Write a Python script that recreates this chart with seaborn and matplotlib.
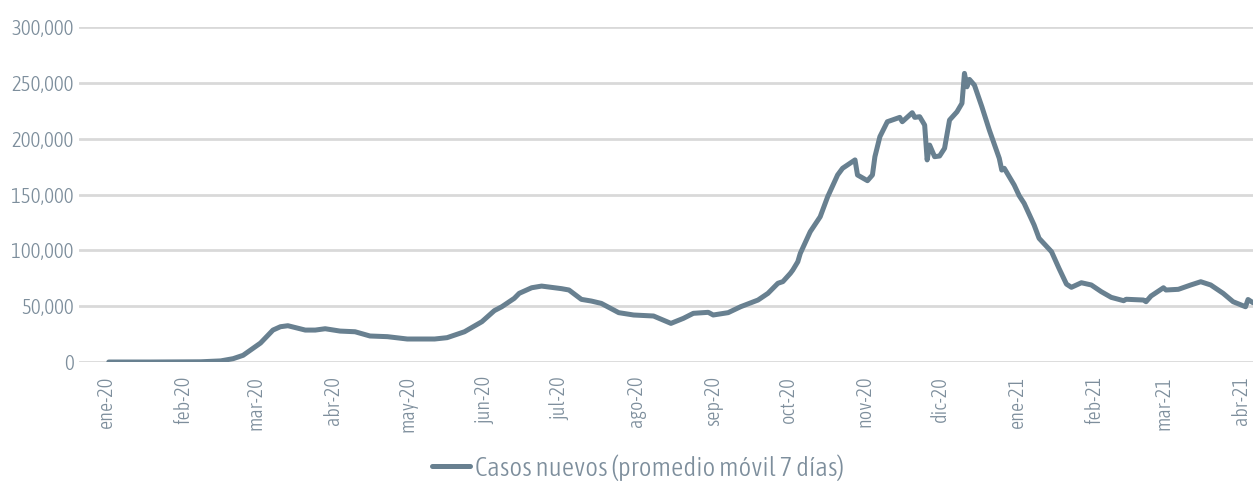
import pandas as pd
import matplotlib.pyplot as plt
import seaborn as sns
from matplotlib import font_manager

# Data (days since 2020-01-01, 7-day avg of new cases)
start_date = '2020-01-01'
days = [1, 18, 38, 46, 51, 55, 62, 67, 70, 73, 80, 84, 88, 94, 100, 106, 113, 121,
        132, 137, 144, 151, 156, 159, 161, 164, 166, 171, 175, 183, 186, 191, 195,
        199, 206, 212, 220, 227, 232, 236, 242, 244, 250, 255, 262, 266, 270, 272,
        275, 276, 278, 279, 283, 287, 290, 294, 296, 301, 302, 306, 308, 309, 311,
        314, 319, 320, 324, 325, 327, 329, 330, 331, 333, 335, 337, 339, 342, 344,
        345, 346, 347, 349, 352, 355, 359, 360, 361, 365, 367, 369, 373, 375, 380,
        383, 386, 388, 392, 396, 400, 404, 409, 410, 417, 418, 420, 425, 426, 431,
        436, 440, 444, 449, 453, 458, 459, 461]
cases = [0, 0, 200, 1000, 3000, 6000, 17000, 28600, 31600, 32500, 28600, 28600,
         29800, 27700, 27100, 23300, 22700, 20600, 20600, 21800, 27100, 36100, 46000,
         49500, 52500, 57000, 61500, 66500, 68000, 65700, 64500, 56100, 54600, 52500,
         44200, 42100, 41200, 34600, 39100, 43600, 44500, 42100, 44200, 49500, 55500,
         61500, 70500, 72000, 79400, 82400, 89800, 97300, 116700, 130100, 148000,
         167500, 173500, 181000, 167500, 162400, 167500, 183900, 201800, 215200,
         219100, 215200, 223300, 219100, 219700, 212200, 181000, 194300, 183900,
         184500, 191400, 216700, 224100, 231700, 258500, 246500, 253100, 248000,
         228600, 207700, 182400, 171900, 173500, 158500, 149000, 142100, 122700,
         110800, 98800, 83900, 69800, 66900, 71000, 69000, 63000, 57900, 54900,
         56200, 55500, 54000, 59100, 66500, 64500, 65100, 69000, 71900, 69000,
         61500, 54000, 49500, 56000, 53100]
series_label = 'Casos nuevos (promedio móvil 7 días)'
month_ticks = pd.date_range('2020-01-01', '2021-04-01', freq='MS')
month_labels = ['ene-20', 'feb-20', 'mar-20', 'abr-20', 'may-20', 'jun-20', 'jul-20',
                'ago-20', 'sep-20', 'oct-20', 'nov-20', 'dic-20', 'ene-21', 'feb-21',
                'mar-21', 'abr-21']
y_ticks = [0, 50000, 100000, 150000, 200000, 250000, 300000]

df = pd.DataFrame({
    'Fecha': pd.Timestamp(start_date) + pd.to_timedelta(days, unit='D'),
    'Casos': cases,
})


def pick_narrow_font():
    """Find a condensed / narrow face among the installed fonts."""
    fonts = font_manager.fontManager.ttflist
    narrow = [f for f in fonts
              if 'Narrow' in f.name or 'Condensed' in f.name
              or f.stretch in ('condensed', 'semi-condensed', 'extra-condensed')]
    normal = [f for f in narrow if f.style == 'normal']
    for pref in (300, 400, 'light', 'normal'):
        for f in normal:
            if f.weight == pref:
                return f
    return normal[0] if normal else None


sns.set_style('white')
face = pick_narrow_font()
if face is not None:
    plt.rcParams['font.family'] = [face.name, 'DejaVu Sans']
    plt.rcParams['font.stretch'] = face.stretch
    plt.rcParams['font.weight'] = face.weight
    scale = 1.0
else:
    plt.rcParams['font.family'] = ['DejaVu Sans']
    scale = 0.8

text_color = '#7d8e9c'
line_color = '#688090'

fig = plt.figure(figsize=(12.53, 4.83), dpi=100)
ax = fig.add_axes([0.063, 0.2505, 0.937, 0.6935])

sns.lineplot(data=df, x='Fecha', y='Casos', ax=ax, color=line_color,
             linewidth=3.6, label=series_label, solid_capstyle='round')

ax.set_ylim(0, 300000)
ax.set_xlim(pd.Timestamp('2019-12-21'), pd.Timestamp('2021-04-06'))
ax.set_yticks(y_ticks)
ax.yaxis.set_major_formatter(plt.FuncFormatter(lambda v, p: f'{v:,.0f}'))
ax.set_xticks(month_ticks)
ax.set_xticklabels(month_labels, rotation=90)
ax.tick_params(axis='y', length=0, pad=4, labelsize=15 * scale, labelcolor=text_color)
ax.tick_params(axis='x', length=0, pad=10, labelsize=14.5 * scale, labelcolor=text_color)
ax.set_xlabel('')
ax.set_ylabel('')

ax.grid(axis='y', color='#d9d9d9', linewidth=2)
ax.grid(axis='x', visible=False)
ax.set_axisbelow(True)
sns.despine(ax=ax, left=True, bottom=True, top=True, right=True)

leg = ax.legend(loc='center', bbox_to_anchor=(0.476, -0.315), frameon=False,
                fontsize=19.5 * scale, handlelength=1.4, handletextpad=0.2)
for t in leg.get_texts():
    t.set_color(text_color)

plt.savefig('out.png', dpi=100)
plt.close()
